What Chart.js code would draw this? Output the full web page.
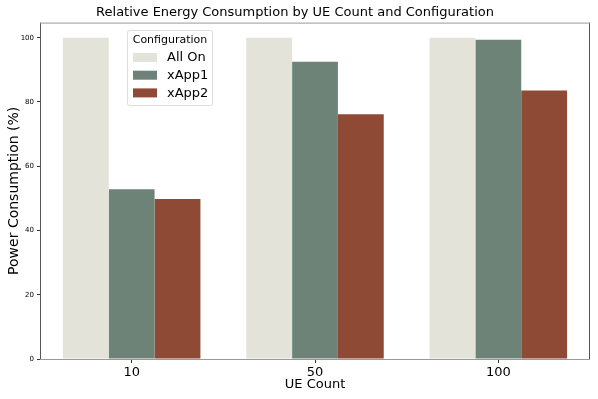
<!DOCTYPE html>
<html>
<head>
<meta charset="utf-8">
<script src="https://cdn.jsdelivr.net/npm/chart.js@4/dist/chart.umd.min.js"></script>
<style>
html,body{margin:0;padding:0;background:#fff;}
#wrap{width:598px;height:399px;position:relative;}
</style>
</head>
<body>
<div id="wrap"><canvas id="c" width="598" height="399"></canvas></div>
<script>
const categories = ['10', '50', '100'];
const seriesNames = ['All On', 'xApp1', 'xApp2'];
const allOn = [100, 100, 100];
const xApp1 = [52.8, 92.5, 99.4];
const xApp2 = [49.8, 76.2, 83.6];
const yTicks = [0, 20, 40, 60, 80, 100];
const colors = ['#e3e3da', '#6e8377', '#8f4a36'];

const FONT = "'DejaVu Sans', sans-serif";

const legendPlugin = {
  id: 'innerLegend',
  afterDraw(chart) {
    const ctx = chart.ctx;
    const x0 = 127, y0 = 30, w = 85, h = 75;
    ctx.save();
    ctx.fillStyle = 'rgba(255,255,255,0.85)';
    ctx.strokeStyle = '#dddddd';
    ctx.lineWidth = 1;
    ctx.beginPath();
    ctx.roundRect(x0 + 0.5, y0 + 0.5, w, h, 2);
    ctx.fill();
    ctx.stroke();
    ctx.fillStyle = '#000';
    ctx.font = '11px ' + FONT;
    ctx.textBaseline = 'middle';
    ctx.textAlign = 'center';
    ctx.fillText('Configuration', x0 + w / 2 + 0.5, y0 + 10);
    ctx.textAlign = 'left';
    ctx.font = '13px ' + FONT;
    chart.data.datasets.forEach((ds, i) => {
      const yy = y0 + 27 + i * 17.7;
      ctx.fillStyle = ds.backgroundColor;
      ctx.fillRect(x0 + 6, yy - 4, 24, 9);
      ctx.fillStyle = '#000';
      ctx.fillText(ds.label, x0 + 40, yy + 1);
    });
    ctx.restore();
  }
};

const framePlugin = {
  id: 'frame',
  afterDatasetsDraw(chart) {
    const a = chart.chartArea;
    const ctx = chart.ctx;
    ctx.save();
    ctx.lineWidth = 1;
    ctx.strokeStyle = '#555';
    ctx.beginPath();
    ctx.moveTo(a.left + 0.5, a.top);
    ctx.lineTo(a.left + 0.5, a.bottom);
    ctx.moveTo(a.right - 0.5, a.top);
    ctx.lineTo(a.right - 0.5, a.bottom);
    ctx.stroke();
    ctx.strokeStyle = '#999';
    ctx.beginPath();
    ctx.moveTo(a.left, a.top + 0.5);
    ctx.lineTo(a.right, a.top + 0.5);
    ctx.moveTo(a.left, a.bottom + 0.5);
    ctx.lineTo(a.right, a.bottom + 0.5);
    ctx.stroke();
    ctx.restore();
  }
};

const data = {
  labels: categories,
  datasets: [allOn, xApp1, xApp2].map((vals, i) => ({
    label: seriesNames[i],
    data: vals,
    backgroundColor: colors[i],
    borderWidth: 0,
    categoryPercentage: 0.75,
    barPercentage: 1.0
  }))
};

new Chart(document.getElementById('c'), {
  type: 'bar',
  data,
  plugins: [legendPlugin, framePlugin],
  options: {
    responsive: false,
    animation: false,
    devicePixelRatio: 1,
    layout: { padding: { left: 0, right: 8, top: 0, bottom: 0 } },
    plugins: {
      legend: { display: false },
      tooltip: { enabled: false },
      title: {
        display: true,
        text: 'Relative Energy Consumption by UE Count and Configuration',
        color: '#000',
        font: { family: FONT, size: 13, weight: 'normal' },
        padding: { top: 5, bottom: 2 }
      }
    },
    scales: {
      x: {
        grid: { display: true, offset: false, drawOnChartArea: false, drawTicks: true, tickLength: 4, color: '#333' },
        border: { display: false },
        ticks: { color: '#000', font: { family: FONT, size: 13 }, padding: 2 },
        title: { display: true, text: 'UE Count', color: '#000', font: { family: FONT, size: 13 }, padding: { top: 0, bottom: 7 } },
        afterFit(s) { s.height = 40; }
      },
      y: {
        min: 0,
        max: 104.7,
        afterBuildTicks(s) { s.ticks = yTicks.map(v => ({ value: v })); },
        grid: { display: true, drawOnChartArea: false, drawTicks: true, tickLength: 3, color: '#333' },
        border: { display: false },
        ticks: { color: '#000', font: { family: FONT, size: 7 }, padding: 3 },
        title: { display: true, text: 'Power Consumption (%)', color: '#000', font: { family: FONT, size: 14 }, padding: { top: 6, bottom: 2 } },
        afterFit(s) { s.width = 40; }
      }
    }
  }
});
</script>
</body>
</html>
